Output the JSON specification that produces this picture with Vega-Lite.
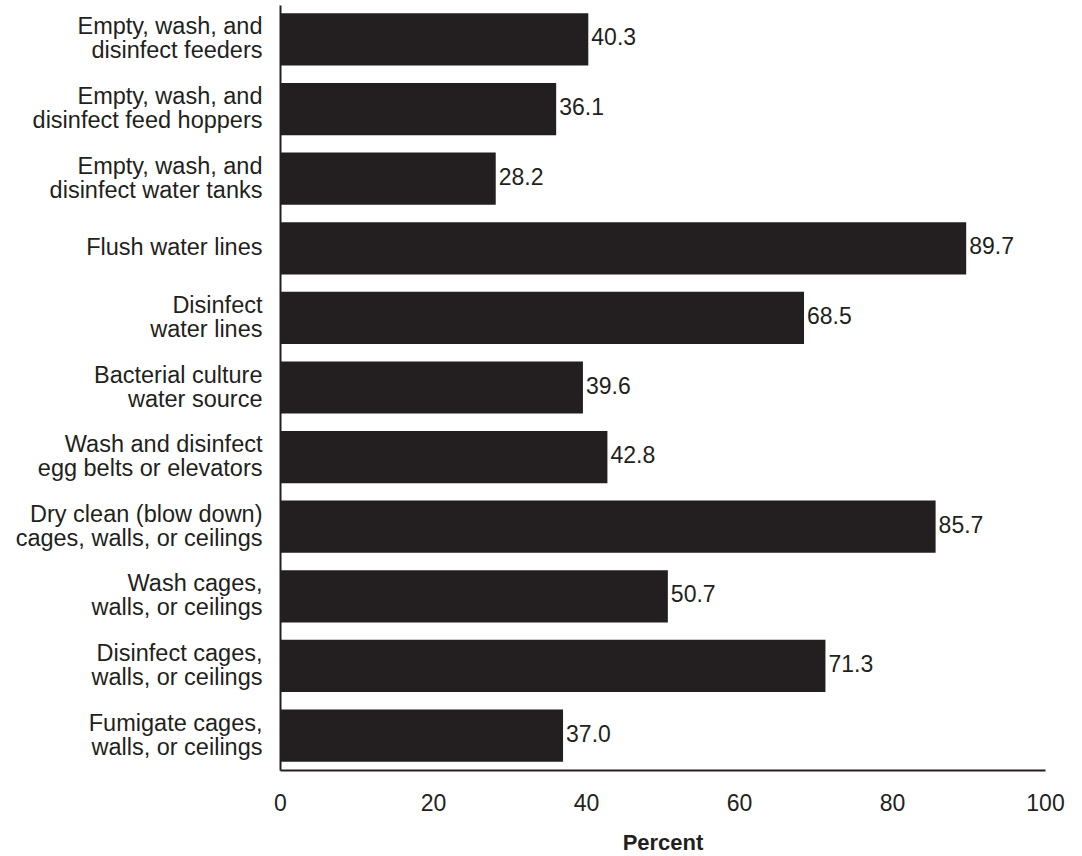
{
  "$schema": "https://vega.github.io/schema/vega-lite/v6.json",
  "width": 765,
  "height": 765,
  "autosize": {"type": "none"},
  "padding": {"left": 280, "top": 5, "right": 37, "bottom": 86},
  "background": "white",
  "config": {
    "view": {"stroke": null},
    "font": "Liberation Sans",
    "text": {"font": "Liberation Sans"}
  },
  "data": {
    "values": [
      {"task": "Empty, wash, and|disinfect feeders", "pct": 40.3},
      {"task": "Empty, wash, and|disinfect feed hoppers", "pct": 36.1},
      {"task": "Empty, wash, and|disinfect water tanks", "pct": 28.2},
      {"task": "Flush water lines", "pct": 89.7},
      {"task": "Disinfect|water lines", "pct": 68.5},
      {"task": "Bacterial culture|water source", "pct": 39.6},
      {"task": "Wash and disinfect|egg belts or elevators", "pct": 42.8},
      {"task": "Dry clean (blow down)|cages, walls, or ceilings", "pct": 85.7},
      {"task": "Wash cages,|walls, or ceilings", "pct": 50.7},
      {"task": "Disinfect cages,|walls, or ceilings", "pct": 71.3},
      {"task": "Fumigate cages,|walls, or ceilings", "pct": 37.0}
    ]
  },
  "encoding": {
    "y": {
      "field": "task",
      "type": "nominal",
      "sort": null,
      "scale": {"paddingInner": 0.25, "paddingOuter": 0.12},
      "axis": {
        "title": null,
        "ticks": false,
        "domainColor": "#231f20",
        "domainWidth": 2,
        "labelExpr": "split(datum.label, '|')",
        "labelFont": "Liberation Sans",
        "labelFontSize": 23.5,
        "labelLineHeight": 24,
        "labelColor": "#231f20",
        "labelPadding": 18,
        "labelLimit": 400,
        "labelOffset": {"condition": {"test": "indexof(datum.value, '|') >= 0", "value": -12}, "value": 0}
      }
    },
    "x": {
      "field": "pct",
      "type": "quantitative",
      "scale": {"domain": [0, 100], "nice": false},
      "axis": {
        "title": "Percent",
        "titleFont": "Liberation Sans",
        "titleFontSize": 22,
        "titleFontWeight": "bold",
        "titleColor": "#231f20",
        "titlePadding": 17,
        "values": [0, 20, 40, 60, 80, 100],
        "grid": false,
        "ticks": false,
        "labelFlush": false,
        "domainColor": "#231f20",
        "domainWidth": 2,
        "labelFont": "Liberation Sans",
        "labelFontSize": 23,
        "labelColor": "#231f20",
        "labelPadding": 22
      }
    }
  },
  "layer": [
    {"mark": {"type": "bar", "color": "#231f20"}},
    {
      "mark": {"type": "text", "align": "left", "baseline": "middle", "dx": 3, "dy": -1, "fontSize": 23, "color": "#231f20"},
      "encoding": {"text": {"field": "pct", "type": "quantitative", "format": ".1f"}}
    }
  ]
}
